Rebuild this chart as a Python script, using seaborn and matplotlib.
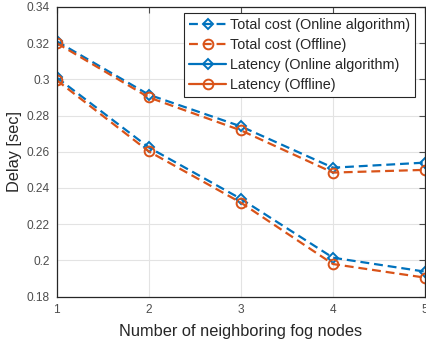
import matplotlib
matplotlib.use("Agg")
import matplotlib.pyplot as plt
import seaborn as sns
import pandas as pd
from matplotlib.lines import Line2D
from matplotlib.ticker import FuncFormatter

nodes = [1, 2, 3, 4, 5]
total_online = [0.321, 0.2915, 0.274, 0.2512, 0.254]
total_offline = [0.320, 0.290, 0.2718, 0.2485, 0.250]
lat_online = [0.301, 0.2624, 0.234, 0.2015, 0.1938]
lat_offline = [0.2995, 0.2602, 0.2319, 0.198, 0.1905]
labels = ["Total cost (Online algorithm)", "Total cost (Offline)",
          "Latency (Online algorithm)", "Latency (Offline)"]

BLUE = "#0072BD"
ORANGE = "#D95319"
DASH = (0, (4, 2.2))

sns.set_style("whitegrid")
plt.rcParams['font.family'] = ['Liberation Sans', 'DejaVu Sans']

fig = plt.figure(figsize=(4.26, 3.41), dpi=100)
ax = fig.add_axes([0.133, 0.13, 0.865, 0.85])

series = [total_online, total_offline, lat_online, lat_offline]
colors = [BLUE, ORANGE, BLUE, ORANGE]
markers = ["D", "o", "D", "o"]
msizes = [5.5, 7, 5.5, 7]
for vals, c, m, ms in zip(series, colors, markers, msizes):
    df = pd.DataFrame({"x": nodes, "y": vals})
    sns.lineplot(data=df, x="x", y="y", ax=ax, color=c, linewidth=1.6,
                 marker=m, markersize=ms, markerfacecolor="none",
                 markeredgecolor=c, markeredgewidth=1.4,
                 dashes=False, clip_on=True)
for line in ax.get_lines():
    line.set_linestyle(DASH)

ax.set_xlim(1, 5)
ax.set_ylim(0.18, 0.34)
ax.set_xticks(nodes)
ax.set_yticks([0.18, 0.20, 0.22, 0.24, 0.26, 0.28, 0.30, 0.32, 0.34])
ax.yaxis.set_major_formatter(FuncFormatter(lambda v, p: "%g" % round(v, 2)))
ax.set_xlabel("Number of neighboring fog nodes", fontsize=11.8, color="#262626", labelpad=6)
ax.set_ylabel("Delay [sec]", fontsize=11.8, color="#262626", labelpad=3)
ax.tick_params(axis="both", which="both", direction="in", length=4, width=0.8,
               labelsize=8.6, colors="#4d4d4d", top=True, right=True, pad=5)
ax.grid(True, color="#e3e3e3", linewidth=0.8)
for s in ax.spines.values():
    s.set_visible(True)
    s.set_color("#262626")
    s.set_linewidth(0.9)

handles = [
    Line2D([], [], color=BLUE, linestyle=DASH, linewidth=1.6, marker="D",
           markersize=5.5, markerfacecolor="none", markeredgewidth=1.4),
    Line2D([], [], color=ORANGE, linestyle=DASH, linewidth=1.6, marker="o",
           markersize=7, markerfacecolor="none", markeredgewidth=1.4),
    Line2D([], [], color=BLUE, linestyle="-", linewidth=1.6, marker="D",
           markersize=5.5, markerfacecolor="none", markeredgewidth=1.4),
    Line2D([], [], color=ORANGE, linestyle="-", linewidth=1.6, marker="o",
           markersize=7, markerfacecolor="none", markeredgewidth=1.4),
]
leg = ax.legend(handles, labels, loc="upper right", bbox_to_anchor=(0.972, 0.978),
                fontsize=10.4, frameon=True, fancybox=False, handlelength=2.6,
                handletextpad=0.25, labelspacing=0.42, borderpad=0.32,
                borderaxespad=0.0)
leg.get_frame().set_edgecolor("#262626")
leg.get_frame().set_linewidth(0.8)
leg.get_frame().set_alpha(1)
for t in leg.get_texts():
    t.set_color("#262626")

fig.savefig("out.png", dpi=100)
